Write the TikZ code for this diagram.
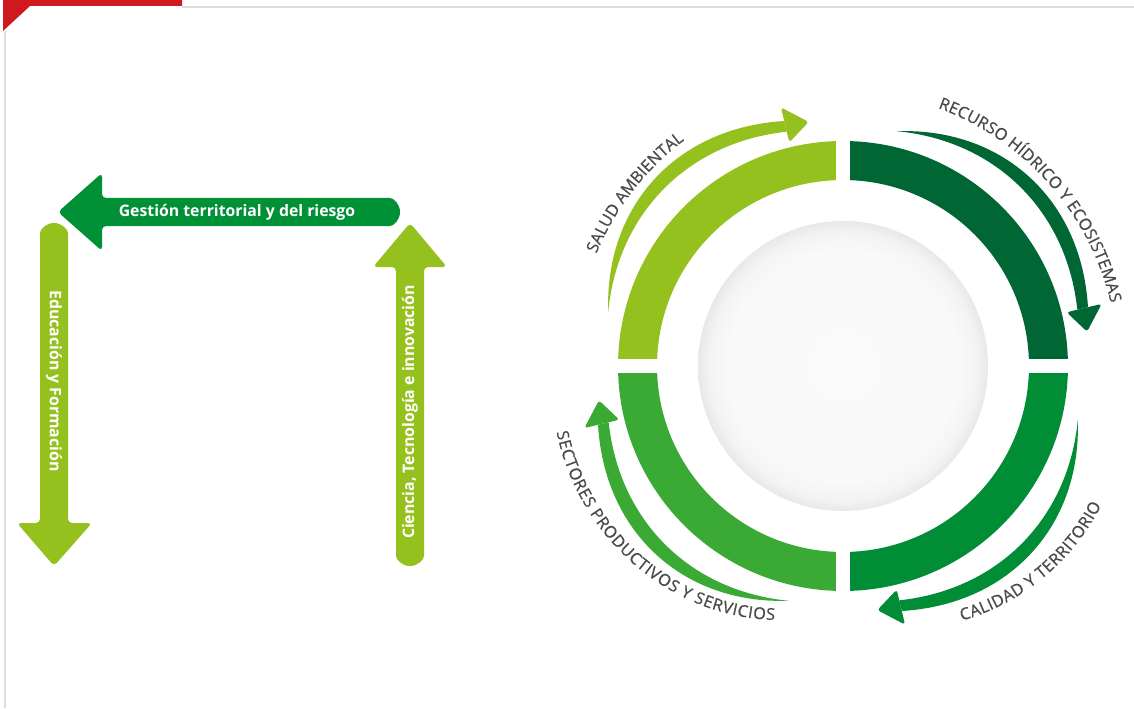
\documentclass[tikz,border=0pt]{standalone}
\usepackage{fontspec}
\setmainfont{Open Sans}
\newfontfamily\circfamily{Open Sans}[FakeBold=0.7]
\usetikzlibrary{decorations.text}
\definecolor{salud}{HTML}{95C11F}
\definecolor{recurso}{HTML}{006633}
\definecolor{calidad}{HTML}{008D36}
\definecolor{sectores}{HTML}{3AAA35}
\definecolor{gestion}{HTML}{009036}
\definecolor{labelgrey}{HTML}{4A4A49}
\definecolor{framegrey}{HTML}{DCDCDC}
\definecolor{headred}{HTML}{D0181F}
\pgfdeclareradialshading{discshade}{\pgfpoint{0bp}{0bp}}{color(0bp)=(gray!4); color(20bp)=(gray!5); color(23bp)=(gray!9); color(25bp)=(gray!18); color(50bp)=(gray!18)}
\def\circfont{\circfamily\fontsize{9.3}{11}\selectfont}
\tikzset{
  arrowtext/.style={text=white, font=\bfseries\fontsize{9}{10}\selectfont, inner sep=0pt},
  circlabel/.style={decorate, decoration={text along path, text align={fit to path}, text color=labelgrey, text={|\circfont|#1}}}
}
\begin{document}
\begin{tikzpicture}[x=0.02cm,y=0.02cm]
	\useasboundingbox (0,0) rectangle (1134,708);
	\fill[headred] (3,708) -- (182,708) -- (182,702) -- (30,702) -- (3,677) -- cycle;
	\draw[framegrey, line width=1.1pt] (182,701) -- (1134,701);
	\draw[framegrey, line width=1.1pt] (5,677) -- (5,0);
	% left arrows
	\fill[gestion, rounded corners=0.8mm] (102,510) -- (386,510) arc[start angle=90, end angle=-90, radius=14] -- (102,482) -- (102,457) -- (58,496) -- (102,535) -- cycle;
	\node[arrowtext] (gestion) at (237,496) {Gestión territorial y del riesgo};
	\fill[salud, rounded corners=0.8mm] (40,471) arc[start angle=180, end angle=0, radius=14] -- (68,185) -- (92,185) -- (54,142) -- (17,185) -- (40,185) -- cycle;
	\node[arrowtext, rotate=-90] (educacion) at (54,327) {Educación y Formación};
	\fill[salud, rounded corners=0.8mm] (424,156) arc[start angle=0, end angle=-180, radius=14] -- (396,441) -- (373,441) -- (410,485) -- (447,441) -- (424,441) -- cycle;
	\node[arrowtext, rotate=90] (ciencia) at (410,296) {Ciencia, Tecnología e innovación};
	% cycle
	\coordinate (c) at (843,342);
	\shade[shading=discshade] (c) circle[radius=145];
	\foreach \rot/\col in {0/salud,-90/recurso,-180/calidad,-270/sectores}{
		\begin{scope}[shift={(c)}, rotate=\rot]
			\fill[\col] (91.8:225) arc[start angle=91.8, end angle=178.2, radius=225] -- (177.8:186) arc[start angle=177.8, end angle=92.2, radius=186] -- cycle;
			\fill[\col] plot[domain=0:1, samples=40] ({167-63.5*\x}:{241+11*\x+19*sin(180*\x)}) -- plot[domain=1:0, samples=40] ({167-63.5*\x}:{241+11*sin(180*\x)}) -- cycle;
			\fill[\col, rounded corners=0.6mm] (103.5:230) -- (98:246.5) -- (103.5:266) -- cycle;
		\end{scope}
	}
	\begin{scope}[shift={(c)}]
		\path[circlabel=SALUD AMBIENTAL] plot[domain=0:1, samples=30] ({155.5-30.2*\x}:{271+5*\x});
		\path[circlabel=RECURSO HÍDRICO Y ECOSISTEMAS] plot[domain=0:1, samples=40] ({69.8-56.6*\x}:275);
		\path[circlabel=CALIDAD Y TERRITORIO] plot[domain=0:1, samples=30] ({-65+36.7*\x}:{281+29.2*\x-16.7*\x*\x});
		\path[circlabel=SECTORES PRODUCTIVOS Y SERVICIOS] plot[domain=0:1, samples=40] ({193+62*\x}:{294+6.7*\x-37.7*\x*\x});
	\end{scope}
\end{tikzpicture}
\end{document}
